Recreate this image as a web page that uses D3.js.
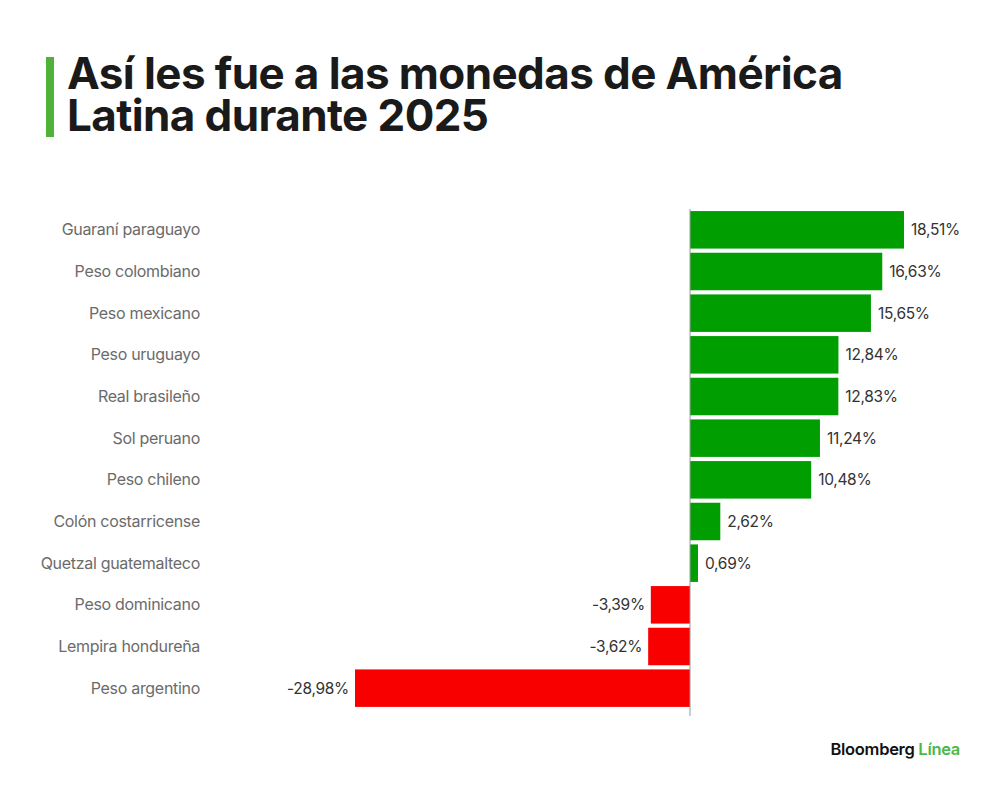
<!DOCTYPE html>
<html>
<head>
<meta charset="utf-8">
<script src="https://cdn.jsdelivr.net/npm/d3@7"></script>
<style>
  body { margin: 0; background: #fff; }
  svg { display: block; }
</style>
</head>
<body>
<div id="chart"></div>
<script>
var currencies = ['Guaraní paraguayo', 'Peso colombiano', 'Peso mexicano', 'Peso uruguayo',
  'Real brasileño', 'Sol peruano', 'Peso chileno', 'Colón costarricense',
  'Quetzal guatemalteco', 'Peso dominicano', 'Lempira hondureña', 'Peso argentino'];
var changes = [18.51, 16.63, 15.65, 12.84, 12.83, 11.24, 10.48, 2.62, 0.69, -3.39, -3.62, -28.98];
var titleLines = ['Así les fue a las monedas de América', 'Latina durante 2025'];

var width = 1000, height = 790;
var svg = d3.select('#chart').append('svg')
  .attr('width', width).attr('height', height);

// title, one text element with a tspan per line
svg.append('rect').attr('x', 46).attr('y', 57).attr('width', 8).attr('height', 80).attr('fill', '#4fb23a');
var title = svg.append('text')
  .attr('font-family', 'Inter, Roboto, sans-serif')
  .attr('font-weight', 700)
  .attr('font-size', 44)
  .attr('letter-spacing', -0.6)
  .attr('fill', '#1a1a1a');
title.selectAll('tspan').data(titleLines).enter().append('tspan')
  .attr('x', 67)
  .attr('y', function(d, i) { return 89 + i * 42; })
  .text(function(d) { return d; });

var x = d3.scaleLinear().domain([-28.98, 18.51]).range([355, 904]);
var y = d3.scaleBand().domain(currencies).range([209, 709]).paddingInner(0.1).paddingOuter(0.05);

var fmt = function(v) { return v.toFixed(2).replace('.', ',') + '%'; };

var rows = svg.append('g').selectAll('g').data(currencies).enter().append('g');

rows.append('rect')
  .attr('x', function(d, i) { return x(Math.min(0, changes[i])); })
  .attr('y', function(d) { return y(d); })
  .attr('width', function(d, i) { return Math.abs(x(changes[i]) - x(0)); })
  .attr('height', y.bandwidth())
  .attr('fill', function(d, i) { return changes[i] >= 0 ? '#009e00' : '#f80000'; });

rows.append('text')
  .attr('x', function(d, i) { return changes[i] >= 0 ? x(changes[i]) + 7 : x(changes[i]) - 6; })
  .attr('y', function(d) { return y(d) + y.bandwidth() / 2; })
  .attr('dy', '0.35em')
  .attr('text-anchor', function(d, i) { return changes[i] >= 0 ? 'start' : 'end'; })
  .attr('font-family', 'Inter, Roboto, sans-serif')
  .attr('font-size', 15.5)
  .attr('letter-spacing', -0.3)
  .attr('fill', '#333')
  .text(function(d, i) { return fmt(changes[i]); });

rows.append('text')
  .attr('x', 200)
  .attr('y', function(d) { return y(d) + y.bandwidth() / 2; })
  .attr('dy', '0.35em')
  .attr('text-anchor', 'end')
  .attr('font-family', 'Inter, Roboto, sans-serif')
  .attr('font-size', 16)
  .attr('letter-spacing', -0.3)
  .attr('fill', '#6b6b6b')
  .text(function(d) { return d; });

// zero line
svg.append('line')
  .attr('x1', x(0)).attr('x2', x(0))
  .attr('y1', 209).attr('y2', 716)
  .attr('stroke', '#999').attr('stroke-width', 1);

// logo
var logo = svg.append('text')
  .attr('x', 960).attr('y', 755)
  .attr('text-anchor', 'end')
  .attr('font-family', 'Inter, Roboto, sans-serif')
  .attr('font-size', 16.5)
  .attr('font-weight', 600)
  .attr('letter-spacing', -0.3);
logo.append('tspan').attr('fill', '#111').text('Bloomberg ');
logo.append('tspan').attr('fill', '#4cb848').text('Línea');
</script>
</body>
</html>
